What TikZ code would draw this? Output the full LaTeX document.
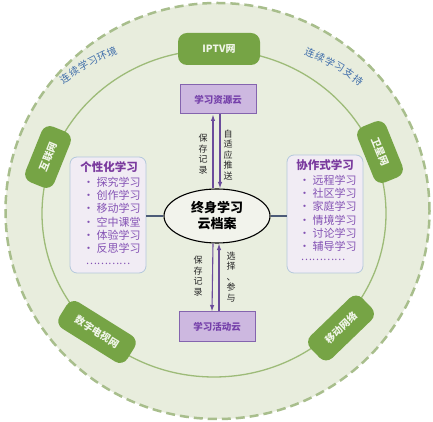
\documentclass[tikz,border=0pt]{standalone}
\usepackage{fontspec}
\newfontfamily\cjk{Noto Sans CJK SC}
\usetikzlibrary{shapes.geometric,arrows.meta,calc}
\definecolor{ringfill}{HTML}{E8EDDD}
\definecolor{innerfill}{HTML}{E9EEDF}
\definecolor{dashc}{HTML}{A8BE8C}
\definecolor{innerline}{HTML}{9DBB78}
\definecolor{netgreen}{HTML}{76A445}
\definecolor{nettext}{HTML}{F0F5E8}
\definecolor{cloudfill}{HTML}{CDB8E0}
\definecolor{cloudline}{HTML}{8464AE}
\definecolor{cloudtext}{HTML}{7540AA}
\definecolor{boxfill}{HTML}{F1ECF4}
\definecolor{boxline}{HTML}{B4C8DC}
\definecolor{titlec}{HTML}{7A3A9E}
\definecolor{itemc}{HTML}{8452B4}
\definecolor{arrowc}{HTML}{6B4C9C}
\definecolor{connc}{HTML}{4C5B78}
\definecolor{arctext}{HTML}{3E6DAA}
\definecolor{corefill}{HTML}{F2F3EC}
\begin{document}
\begin{tikzpicture}[x=1pt,y=1pt,font=\cjk,
  net/.style={fill=netgreen, rounded corners=9pt, text=nettext, font=\cjk\bfseries\fontsize{10}{12}\selectfont, minimum height=31pt, inner sep=2pt},
  cloud/.style={fill=cloudfill, draw=cloudline, line width=1pt, minimum width=76pt, minimum height=29pt, text=cloudtext, font=\cjk\bfseries\fontsize{9.5}{11}\selectfont},
  sidebox/.style={fill=boxfill, draw=boxline, line width=0.8pt, rounded corners=7pt, minimum width=76pt},
  boxtitle/.style={text=titlec, font=\cjk\bfseries\fontsize{11.5}{13}\selectfont, inner sep=0pt},
  boxitem/.style={text=itemc, font=\cjk\fontsize{11}{12}\selectfont, inner sep=0pt, anchor=west},
  boxdots/.style={text=itemc, font=\cjk\fontsize{10.5}{12}\selectfont, inner sep=0pt, text height=2pt, text depth=0pt},
  vlab/.style={align=center, text=black!85, font=\cjk\fontsize{9}{10.5}\selectfont, inner sep=0pt},
  arrowline/.style={draw=arrowc, line width=1.1pt, -{Latex[length=6.5pt,width=4.5pt]}},
  conn/.style={draw=connc, line width=1.2pt},
  arclab/.style={text=arctext, font=\cjk\fontsize{10}{12}\selectfont, inner sep=0pt}
]
\useasboundingbox (0,0) rectangle (433,422);
\fill[white] (0,0) rectangle (433,422);
% rings
\draw[dashc, fill=ringfill, line width=2.5pt, dash pattern=on 9pt off 5pt] (217.5,211) ellipse [x radius=212, y radius=208];
\draw[innerline, fill=innerfill, line width=1.3pt] (214,208.5) ellipse [x radius=172, y radius=163.5];
% curved labels
\foreach \c [count=\i] in {连,续,学,习,环,境} {
  \pgfmathsetmacro\ang{138.2-(\i-1)*3.06}
  \pgfmathsetmacro\rad{202.5-(\i-1)*2.16}
  \pgfmathsetmacro\rot{36-(\i-1)*2.8}
  \node[arclab, rotate=\rot] (la\i) at ($(216,209)+(\ang:\rad)$) {\c};
}
\foreach \c [count=\i] in {连,续,学,习,支,持} {
  \pgfmathsetmacro\ang{59.6-(\i-1)*3.3}
  \pgfmathsetmacro\rad{185.6+(\i-1)*1.78}
  \pgfmathsetmacro\rot{-22-(\i-1)*2.8}
  \node[arclab, rotate=\rot] (ra\i) at ($(216,209)+(\ang:\rad)$) {\c};
}
% network nodes
\node[net, minimum width=82pt, minimum height=32pt] (iptv) at (219,373) {IPTV网};
\node[net, minimum width=60pt, rotate=68] (hlw) at (48,265) {互联网};
\node[net, minimum width=60pt, rotate=-68] (wxw) at (380,270) {卫星网};
\node[net, minimum width=80pt, rotate=-32] (szds) at (97,90) {数字电视网};
\node[net, minimum width=72pt, rotate=44] (yd) at (341,94) {移动网络};
% clouds
\node[cloud] (res) at (218,322.5) {学习资源云};
\node[cloud, minimum height=30pt] (act) at (217,95) {学习活动云};
% core
\node[ellipse, draw, line width=1.1pt, fill=corefill, minimum width=106pt, minimum height=54pt, inner sep=0pt, align=center, font=\cjk\bfseries\fontsize{13}{16}\selectfont] (core) at (217,206) {终身学习\\云档案};
% side boxes
\node[sidebox, minimum height=116pt] (lbox) at (108,207) {};
\node[sidebox, minimum height=118pt] (rbox) at (325,208) {};
\node[boxtitle] (lt) at (109,255) {个性化学习};
\foreach \t [count=\i] in {探究学习,创作学习,移动学习,空中课堂,体验学习,反思学习}
  \node[boxitem] (li\i) at (83,{240-(\i-1)*13.3}) {• \t};
\node[boxdots] (ld) at (108,158) {…………};
\node[boxtitle] (rt) at (325,257) {协作式学习};
\foreach \t [count=\i] in {远程学习,社区学习,家庭学习,情境学习,讨论学习,辅导学习}
  \node[boxitem] (ri\i) at (299,{242-(\i-1)*13.3}) {• \t};
\node[boxdots] (rd) at (323,162) {…………};
% connectors
\draw[conn] (lbox.east |- core.west) -- (core.west);
\draw[conn] (core.east) -- (rbox.west |- core.east);
\draw[arrowline] ([xshift=-4pt]core.north) -- ([xshift=-5pt]res.south);
\draw[arrowline] ([xshift=2pt]res.south) -- ([xshift=3pt]core.north);
\draw[arrowline] ([xshift=-4pt]core.south) -- ([xshift=-5pt]act.north);
\draw[arrowline] ([xshift=2pt]act.north) -- ([xshift=2pt]core.south);
% arrow labels
\node[vlab] (t1) at (203,268) {保\\存\\记\\录};
\node[vlab] (t2) at (228,267) {自\\适\\应\\推\\送};
\node[vlab] (t3) at (198,146) {保\\存\\记\\录};
\node[vlab] (t4) at (231,145) {选\\择\\、\\参\\与};
\end{tikzpicture}
\end{document}
